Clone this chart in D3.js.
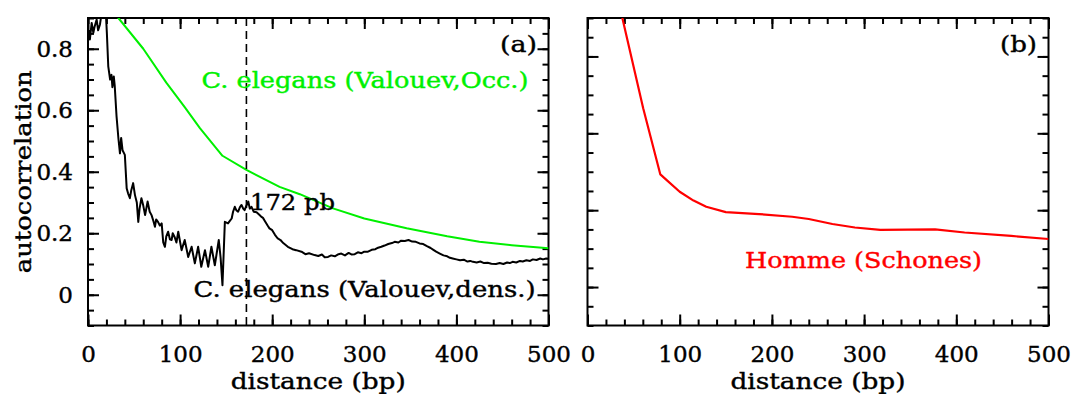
<!DOCTYPE html>
<html>
<head>
<meta charset="utf-8">
<script src="https://cdn.jsdelivr.net/npm/d3@7/dist/d3.min.js"></script>
<style>
  html, body { margin: 0; padding: 0; background: #fff; }
  svg { display: block; }
  text { font-family: "DejaVu Serif", "Liberation Serif", serif; }
</style>
</head>
<body>
<svg id="chart" width="1073" height="394"></svg>
<script>
// Autocorrelation vs. distance (bp)

// Panel (a): C. elegans nucleosome density autocorrelation (Valouev, dens.)
const densDistance = [0,1,2,4,5.8,7,9.4,11,13,15,17,19.5,20.5,22,24,25.5,26.5,28,29,31,33,34.7,36,37.5,40,42,43.5,45.5,47,49,51,53,54.6,56,58,60,62,64.7,67,69,71,72.7,74,76,78,80,81.7,83.5,85,87,89,90.8,92,94,96,98,101.6,105,108.8,112.5,116,119.6,123,127,130.5,134,137.7,142,144,146,147.5,148.6,152,154,156,157.5,159.4,161,163,165,166.7,168.5,170,172,174,175.7,177.5,180,183,186,188,190,192,195,197,200,203,206,209,212,217,222,226,231.8,236,240,246,250,254,257,260.6,264,268,272,275,279,283,286,289.6,293,297,300,304,308,312,315,318.5,322,326,330,333,337,340,344,348,352,356,360,364,368,372,375,378,382,386,390,393,396,400,404,408,412,415,418,422,426,430,434,438,443,447,451,455,458,461,465,469,472,476,480,483,487,491,494,497.5,500];
const densValue = [0.84,0.86,0.83,0.884,0.852,0.87,0.895,0.86,0.879,0.92,0.95,0.91,0.85,0.743,0.70,0.715,0.675,0.71,0.68,0.58,0.509,0.46,0.51,0.47,0.455,0.346,0.33,0.314,0.34,0.363,0.324,0.30,0.237,0.28,0.314,0.29,0.259,0.303,0.27,0.259,0.24,0.221,0.245,0.237,0.225,0.232,0.17,0.156,0.19,0.205,0.18,0.178,0.2,0.188,0.17,0.205,0.145,0.178,0.123,0.156,0.102,0.156,0.091,0.145,0.091,0.156,0.096,0.178,0.12,0.031,0.15,0.237,0.232,0.24,0.248,0.27,0.286,0.275,0.27,0.285,0.292,0.28,0.275,0.29,0.303,0.28,0.286,0.27,0.268,0.26,0.254,0.25,0.24,0.225,0.216,0.21,0.195,0.183,0.178,0.168,0.156,0.148,0.145,0.14,0.132,0.135,0.129,0.126,0.131,0.122,0.123,0.128,0.125,0.132,0.134,0.128,0.136,0.131,0.132,0.138,0.135,0.14,0.14,0.146,0.148,0.153,0.156,0.16,0.165,0.168,0.172,0.17,0.176,0.175,0.178,0.173,0.172,0.167,0.165,0.158,0.152,0.146,0.14,0.134,0.128,0.125,0.12,0.118,0.115,0.112,0.114,0.108,0.11,0.107,0.105,0.108,0.103,0.104,0.101,0.1,0.103,0.1,0.105,0.103,0.107,0.105,0.11,0.108,0.112,0.11,0.115,0.113,0.118,0.115,0.118,0.117];

// Panel (a): C. elegans occupancy autocorrelation (Valouev, Occ.)
const occDistance = [30,33,60,85,105,121.5,146,172,208,230,266,300,346,390,425,460,500];
const occValue = [0.915,0.9,0.8,0.69,0.61,0.542,0.452,0.406,0.351,0.327,0.281,0.248,0.216,0.19,0.172,0.161,0.151];

// Panel (b): human (Schones)
const hsDistance = [35,37.8,60.4,79,85.6,100,115,128.8,150,186,222,240,265.6,290,317.6,377,409,459.6,500];
const hsValue = [0.92,0.9,0.665,0.493,0.479,0.448,0.425,0.409,0.395,0.39,0.383,0.377,0.364,0.355,0.349,0.35,0.342,0.333,0.325];

// Reference distance marked in panel (a)
const markDistance = 172;

// Tick values
const xMajorTicks = [0, 100, 200, 300, 400, 500];
const xMinorTicks = d3.range(0, 501, 20);
const yMajorTicksA = [0, 0.2, 0.4, 0.6, 0.8];
const yMinorTicksA = d3.range(-0.1, 0.9001, 0.05).map(v => +v.toFixed(2));
const yMajorTicksB = [0.2, 0.4, 0.6, 0.8];
const yMinorTicksB = d3.range(0.1, 0.9001, 0.05).map(v => +v.toFixed(2));

const GREEN = "#00f000", RED = "#ff0000";

const svg = d3.select("#chart");
const plotTop = 18, plotBottom = 325.5;

const panels = [
  { id: "a", left: 88, right: 548.5, yDomain: [-0.1, 0.9], yMajor: yMajorTicksA, yMinor: yMinorTicksA, yLabels: true },
  { id: "b", left: 587.5, right: 1048.5, yDomain: [0.1, 0.9], yMajor: yMajorTicksB, yMinor: yMinorTicksB, yLabels: false }
];

const defs = svg.append("defs");

panels.forEach(p => {
  p.x = d3.scaleLinear().domain([0, 500]).range([p.left, p.right]);
  p.y = d3.scaleLinear().domain(p.yDomain).range([plotBottom, plotTop]);
  defs.append("clipPath").attr("id", "clip-" + p.id)
    .append("rect").attr("x", p.left).attr("y", plotTop)
    .attr("width", p.right - p.left).attr("height", plotBottom - plotTop);
});

function styleAxis(g, fontSize) {
  g.select(".domain").remove();
  g.selectAll(".tick line").attr("stroke", "#000").attr("stroke-width", 2);
  g.selectAll(".tick text").attr("fill", "#000").attr("font-size", fontSize)
    .attr("font-family", "DejaVu Serif")
    .attr("stroke", "#000").attr("stroke-width", 0.4);
}

const fmtY = v => v === 0 ? "0" : v.toFixed(1);

panels.forEach(p => {
  const g = svg.append("g");
  // minor ticks
  g.append("g").attr("transform", `translate(0,${plotBottom})`)
    .call(d3.axisBottom(p.x).tickValues(xMinorTicks).tickSize(-6).tickFormat(""))
    .call(s => styleAxis(s, 23));
  g.append("g").attr("transform", `translate(0,${plotTop})`)
    .call(d3.axisTop(p.x).tickValues(xMinorTicks).tickSize(-6).tickFormat(""))
    .call(s => styleAxis(s, 23));
  g.append("g").attr("transform", `translate(${p.left},0)`)
    .call(d3.axisLeft(p.y).tickValues(p.yMinor).tickSize(-6).tickFormat(""))
    .call(s => styleAxis(s, 23));
  g.append("g").attr("transform", `translate(${p.right},0)`)
    .call(d3.axisRight(p.y).tickValues(p.yMinor).tickSize(-6).tickFormat(""))
    .call(s => styleAxis(s, 23));
  // major ticks
  g.append("g").attr("transform", `translate(0,${plotBottom})`)
    .call(d3.axisBottom(p.x).tickValues(xMajorTicks).tickSizeInner(-11).tickSizeOuter(0).tickPadding(20).tickFormat(d3.format("d")))
    .call(s => styleAxis(s, 23));
  g.append("g").attr("transform", `translate(0,${plotTop})`)
    .call(d3.axisTop(p.x).tickValues(xMajorTicks).tickSize(-11).tickFormat(""))
    .call(s => styleAxis(s, 23));
  g.append("g").attr("transform", `translate(${p.left},0)`)
    .call(d3.axisLeft(p.y).tickValues(p.yMajor).tickSizeInner(-11).tickSizeOuter(0).tickPadding(15)
      .tickFormat(p.yLabels ? fmtY : ""))
    .call(s => styleAxis(s, 23));
  g.append("g").attr("transform", `translate(${p.right},0)`)
    .call(d3.axisRight(p.y).tickValues(p.yMajor).tickSize(-11).tickFormat(""))
    .call(s => styleAxis(s, 23));
  // frame
  g.append("rect").attr("x", p.left).attr("y", plotTop)
    .attr("width", p.right - p.left).attr("height", plotBottom - plotTop)
    .attr("fill", "none").attr("stroke", "#000").attr("stroke-width", 2);
  // x-axis title
  g.append("text").attr("x", (p.left + p.right) / 2).attr("y", 389)
    .attr("text-anchor", "middle").attr("font-size", 22)
    .attr("stroke", "#000").attr("stroke-width", 0.4)
    .attr("textLength", 175).attr("lengthAdjust", "spacingAndGlyphs")
    .text("distance (bp)");
});

const pa = panels[0], pb = panels[1];

function drawLine(p, xs, ys, color, width) {
  const pts = xs.map((d, i) => [d, ys[i]]);
  svg.append("path").datum(pts)
    .attr("clip-path", `url(#clip-${p.id})`)
    .attr("fill", "none").attr("stroke", color).attr("stroke-width", width)
    .attr("stroke-linejoin", "round")
    .attr("d", d3.line().x(d => p.x(d[0])).y(d => p.y(d[1])));
}

drawLine(pa, occDistance, occValue, GREEN, 2);
drawLine(pa, densDistance, densValue, "#000", 2);
drawLine(pb, hsDistance, hsValue, RED, 2.2);

// dashed marker at the nucleosome repeat length
svg.append("line")
  .attr("x1", pa.x(markDistance)).attr("x2", pa.x(markDistance))
  .attr("y1", plotTop).attr("y2", plotBottom)
  .attr("stroke", "#000").attr("stroke-width", 1.6).attr("stroke-dasharray", "8,5");

// y-axis title
svg.append("text")
  .attr("transform", `translate(31,${(plotTop + plotBottom) / 2}) rotate(-90)`)
  .attr("text-anchor", "middle").attr("font-size", 22)
  .attr("stroke", "#000").attr("stroke-width", 0.4)
  .attr("textLength", 203).attr("lengthAdjust", "spacingAndGlyphs")
  .text("autocorrelation");

// annotations
function label(x, y, str, color, len) {
  svg.append("text").attr("x", x).attr("y", y).attr("fill", color)
    .attr("stroke", color).attr("stroke-width", 0.4)
    .attr("font-size", 22).attr("textLength", len).attr("lengthAdjust", "spacingAndGlyphs")
    .text(str);
}
label(201.5, 88, "C. elegans (Valouev,Occ.)", GREEN, 327);
label(250, 210, "172 pb", "#000", 85);
label(193.5, 296.5, "C. elegans (Valouev,dens.)", "#000", 342);
label(500, 52, "(a)", "#000", 37);
label(1000, 52, "(b)", "#000", 37);
label(745, 268, "Homme (Schones)", RED, 237);
</script>
</body>
</html>
